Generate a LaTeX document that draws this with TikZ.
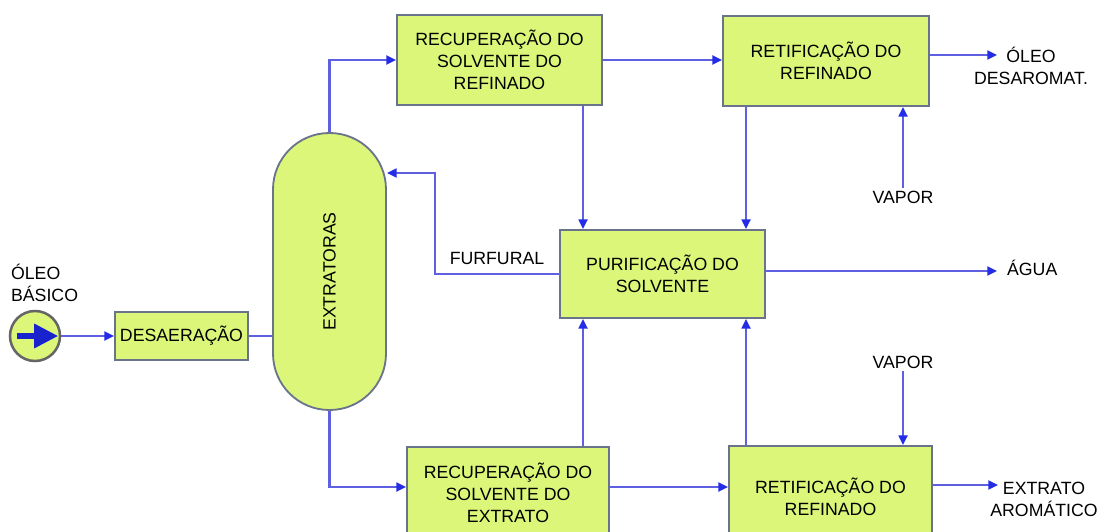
\documentclass[tikz,border=0pt]{standalone}
\usepackage{fontspec}
\setmainfont{Liberation Sans}
\usetikzlibrary{arrows.meta}
\definecolor{boxfill}{RGB}{220,246,122}
\definecolor{boxline}{RGB}{105,115,140}
\definecolor{flowblue}{RGB}{95,95,225}
\definecolor{tipblue}{RGB}{35,45,230}
\definecolor{inkblue}{RGB}{25,35,205}

\tikzset{
  dims/.style 2 args={minimum width=#1*0.025cm, minimum height=#2*0.025cm},
  unit/.style={draw=boxline, line width=1.3pt, fill=boxfill, align=center,
    inner sep=0pt, font=\fontsize{12.6}{15.6}\selectfont},
  tag/.style={font=\fontsize{12.6}{15.6}\selectfont, inner sep=2pt},
  flow/.style={draw=flowblue, line width=1.6pt},
  feed/.style={flow, -{Triangle[length=2.4mm,width=2.2mm,color=tipblue]}}
}

\begin{document}
\begin{tikzpicture}[x=0.025cm, y=-0.025cm]
\useasboundingbox (0,0) rectangle (1110,532);
\clip (0,0) rectangle (1110,532);

% helper points
\coordinate (colA) at (583,0);
\coordinate (colB) at (746,0);
\coordinate (botrow) at (0,487);
\coordinate (fbk) at (435,173);
\coordinate (outtop) at (997,55);
\coordinate (outmid) at (997,271);
\coordinate (outbot) at (998,485);

% feed side
\node[circle, draw=gray!80!black, line width=1.8pt, fill=boxfill, minimum size=1.25cm] (inlet) at (35,336) {};
\draw[line width=4pt, draw=inkblue, -{Triangle[length=0.6cm,width=0.58cm,color=inkblue]}]
  ([xshift=-0.45cm]inlet.center) -- ([xshift=0.58cm]inlet.center);
\node[tag, anchor=west, align=left] (basico) at (8,283) {ÓLEO\\BÁSICO};
\node[unit, dims={133}{48}] (desaer) at (181.5,336) {DESAERAÇÃO};
\node[unit, dims={113}{277}, rounded corners=1.41cm] (extrat) at (329.5,271.5) {\rotatebox{90}{EXTRATORAS}};

% process units
\node[unit, dims={205}{90}] (recref) at (499.5,60) {RECUPERAÇÃO DO\\SOLVENTE DO\\REFINADO};
\node[unit, dims={206}{90}] (retref) at (826,61) {RETIFICAÇÃO DO\\REFINADO};
\node[unit, dims={205}{88}] (purif) at (662.5,274) {PURIFICAÇÃO DO\\SOLVENTE};
\node[unit, dims={202}{92}] (recext) at (508,493) {RECUPERAÇÃO DO\\SOLVENTE DO\\EXTRATO};
\node[unit, dims={203}{102}] (retext) at (830.5,497) {RETIFICAÇÃO DO\\REFINADO};

% labels
\node[tag] (vapsup) at (903,197) {VAPOR};
\node[tag] (vapinf) at (903,362) {VAPOR};
\node[tag] (furf) at (497,258) {FURFURAL};
\node[tag, anchor=west] (agua) at (1004,268) {ÁGUA};
\node[tag, align=center] (desarom) at (1031,66) {ÓLEO\\DESAROMAT.};
\node[tag, align=center] (aromat) at (1044,499) {EXTRATO\\AROMÁTICO};

% streams
\draw[feed] (inlet) -- (desaer);
\draw[flow] (desaer.east) -- (desaer.east -| extrat.west);
\draw[feed] (extrat.north) |- (recref.west);
\draw[feed] (extrat.south) |- (recext.west |- botrow);
\draw[feed] (recref.east) -- (recref.east -| retref.west);
\draw[feed] (retref.east |- outtop) -- (outtop);
\draw[feed] (vapsup.north) -- (vapsup.north |- retref.south);
\draw[feed] (recref.south -| colA) -- (purif.north -| colA);
\draw[feed] (retref.south -| colB) -- (purif.north -| colB);
\draw[feed] (recext.north -| colA) -- (purif.south -| colA);
\draw[feed] (retext.north -| colB) -- (purif.south -| colB);
\draw[feed] (purif.west) -| (fbk) -- (fbk -| extrat.east);
\draw[feed] (purif.east |- outmid) -- (outmid);
\draw[feed] (vapinf.south) -- (vapinf.south |- retext.north);
\draw[feed] (recext.east |- botrow) -- (retext.west |- botrow);
\draw[feed] (retext.east |- outbot) -- (outbot);

\end{tikzpicture}
\end{document}
